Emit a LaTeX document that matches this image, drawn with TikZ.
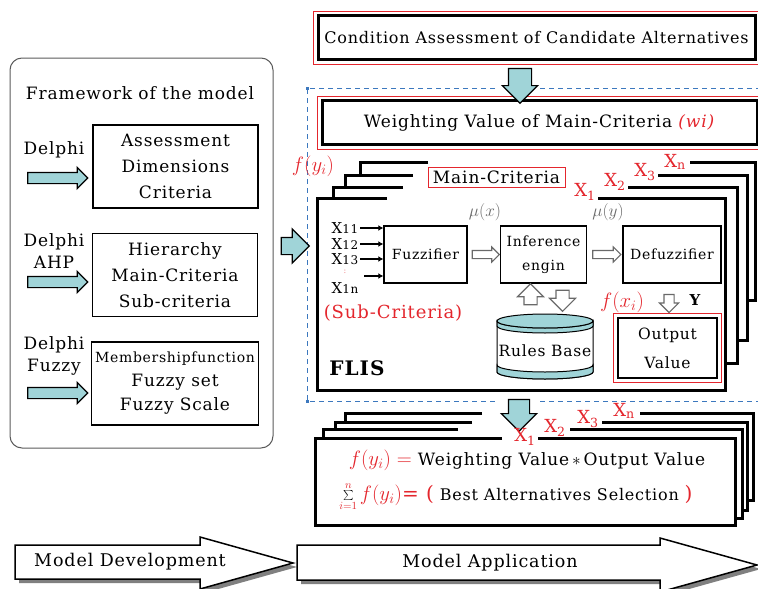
\documentclass[tikz,border=0pt]{standalone}
\usepackage{fontspec}
\setmainfont{DejaVu Serif}[LetterSpace=5]
\usetikzlibrary{arrows.meta, positioning, calc, shapes.arrows, fit}

\definecolor{arrowcyan}{RGB}{160,212,216}
\definecolor{flisred}{RGB}{228,38,45}
\definecolor{dashblue}{RGB}{60,120,190}
\definecolor{framegray}{RGB}{90,90,90}
\definecolor{hollowgray}{RGB}{105,105,105}

\newcommand{\inx}[1]{X{\fontsize{12}{12}\selectfont #1}}
\newcommand{\critx}[1]{X\textsubscript{#1}}

\begin{document}
\begin{tikzpicture}[x=1pt, y=-1pt,
  panelbox/.style={draw, line width=1.6pt, align=center, minimum width=165pt, minimum height=83pt, font=\fontsize{17}{26}\selectfont},
  methlabel/.style={align=center, font=\fontsize{17}{22}\selectfont},
  cyanarrow/.style={single arrow, draw, line width=1.2pt, fill=arrowcyan, inner xsep=0pt},
  grayarrow/.style={single arrow, draw=hollowgray, line width=1.1pt, fill=white, inner xsep=0pt},
  stackline/.style={draw, fill=white, line width=3pt},
  bigbox/.style={draw, line width=3pt, fill=white, minimum height=44pt},
  redframe/.style={draw=flisred, line width=0.7pt, inner sep=3pt},
  flisbox/.style={draw, line width=1.5pt, fill=white, align=center, minimum height=57pt, font=\fontsize{14}{24}\selectfont},
  critlabel/.style={text=flisred, font=\fontsize{18}{18}\selectfont, inner sep=0pt},
  inlabel/.style={font=\fontsize{15}{15}\selectfont, inner sep=0pt},
  inarrow/.style={-{Latex[length=5pt,width=6pt]}, line width=2.2pt},
  dashline/.style={dash pattern=on 5pt off 4pt, draw=dashblue, line width=0.8pt},
  devarrow/.style={draw, fill=white, line width=1.5pt}
]
\useasboundingbox (0,0) rectangle (758,589);

% model framework
\node[draw=framegray, rounded corners=12pt, line width=1pt, minimum width=263pt, minimum height=390pt] (frame) at (141.5,253) {};
\node[font=\fontsize{17}{18}\selectfont] (fwtitle) at (140,93) {Framework of the model};
\node[panelbox] (assess) at (175.5,166.5) {Assessment\\Dimensions\\Criteria};
\node[panelbox] (hier) at (175,275) {Hierarchy\\Main-Criteria\\Sub-criteria};
\node[panelbox, font=\fontsize{17}{24}\selectfont] (member) at (175,383.5) {{\fontsize{14}{14}\selectfont Membershipfunction}\\Fuzzy set\\Fuzzy Scale};
\node[methlabel] (meth1) at (54,150) {Delphi};
\node[methlabel] (meth2) at (54,251) {Delphi\\AHP};
\node[methlabel] (meth3) at (54,356) {Delphi\\Fuzzy};
\foreach \ay/\nm in {178/arr1, 282/arr2, 393/arr3}
  \node[cyanarrow, minimum height=60pt, inner ysep=5pt, single arrow head extend=5pt] (\nm) at (55,\ay) {};

% application side
\node[bigbox, minimum width=437pt, font=\fontsize{16}{20}\selectfont] (cond) at (536.5,37.5) {Condition Assessment of Candidate Alternatives};
\node[redframe, fit=(cond)] (condframe) {};
\node[bigbox, minimum width=435pt, font=\fontsize{17}{20}\selectfont] (weight) at (539.5,122.5) {Weighting Value of Main-Criteria \textcolor{flisred}{\textit{(wi)}}};
\node[redframe, fit=(weight)] (weightframe) {};
\node[cyanarrow, shape border rotate=270, minimum height=30pt, inner sep=11pt, inner xsep=11pt, single arrow head extend=6pt] (arrcond) at (520,80) {};

\draw[dashline] (495,88) -- (307,88) -- (307,401) -- (495,401);
\draw[dashline] (540,88) -- (758,88);
\draw[dashline] (540,401) -- (758,401);
\foreach \hy in {88,245,401}
  \fill[dashblue] (305.5,\hy-1.5) rectangle +(3,3);

% FLIS stack
\foreach \lx/\ty/\rx/\by/\ga/\gb in {360/162/755/300/428/690, 345/175/747/340/413/658, 333/187/737/363/403/628, 317/198/725/390/387/598}
  \filldraw[stackline] (\ga,\ty) -- (\lx,\ty) -- (\lx,\by) -- (\rx,\by) -- (\rx,\ty) -- (\gb,\ty);
\node[draw=flisred, line width=0.7pt, fill=white, font=\fontsize{17}{18}\selectfont, minimum width=137pt, minimum height=20pt, inner sep=1pt] (maincrit) at (496.5,177) {Main-Criteria};
\node[critlabel] (fx1) at (585,192) {\critx{1}};
\node[critlabel] (fx2) at (615,182) {\critx{2}};
\node[critlabel] (fx3) at (645,172) {\critx{3}};
\node[critlabel] (fxn) at (675,162) {\critx{n}};
\node[text=flisred, font=\fontsize{20}{20}\selectfont] (fyi) at (313,166) {$f(y_i)$};
\node[cyanarrow, minimum height=28pt, inner ysep=8pt, single arrow head extend=8.5pt] (arrflis) at (291,246) {};

\node[flisbox, minimum width=83pt] (fuzz) at (425.5,254.5) {Fuzzifier};
\node[flisbox, minimum width=86pt, right=32pt of fuzz] (infer) {Inference\\engin};
\node[flisbox, minimum width=98pt, right=35pt of infer] (defuzz) {Defuzzifier};
\node[inlabel] (x11) at (345,228) {\inx{11}};
\node[inlabel] (x12) at (345,244) {\inx{12}};
\node[inlabel] (x13) at (345,259) {\inx{13}};
\node[text=flisred!60, font=\fontsize{8}{8}\selectfont, inner sep=0pt] (xdots) at (345,272) {:};
\node[inlabel] (x1n) at (345,288) {\inx{1n}};
\coordinate (x1nin) at (364,276);
\foreach \src in {x11,x12,x13}
  \draw[inarrow] ([xshift=2pt]\src.east) -- (\src.east -| fuzz.west);
\draw[inarrow] (x1nin) -- (x1nin -| fuzz.west);
\node[text=hollowgray, font=\fontsize{16}{16}\selectfont] (mux) at (485,212) {$\mu(x)$};
\node[text=hollowgray, font=\fontsize{16}{16}\selectfont] (muy) at (608,212) {$\mu(y)$};
\node[grayarrow, minimum height=27pt, inner ysep=3.5pt, single arrow head extend=3.5pt] (arrfi) at ($(fuzz.east)!0.5!(infer.west)$) {};
\node[grayarrow, minimum height=28pt, inner ysep=3.5pt, single arrow head extend=3.5pt] (arrid) at ($(infer.east)!0.5!(defuzz.west)$) {};

% rules base
\filldraw[fill=white, line width=1pt] (497,321) -- (497,372) arc[start angle=180, end angle=0, x radius=48, y radius=7] -- (593,321);
\filldraw[fill=arrowcyan, line width=1pt] (497,365) arc[start angle=180, end angle=0, x radius=48, y radius=7] -- (593,372) arc[start angle=0, end angle=180, x radius=48, y radius=7] -- cycle;
\filldraw[fill=arrowcyan, line width=1pt] (497,321) arc[start angle=180, end angle=0, x radius=48, y radius=7] -- (593,326) arc[start angle=0, end angle=180, x radius=48, y radius=7] -- cycle;
\filldraw[fill=arrowcyan, line width=1pt] (545,321) ellipse[x radius=48, y radius=7];
\node[font=\fontsize{15.5}{16}\selectfont] (rules) at (545,351) {Rules Base};
\node[grayarrow, shape border rotate=90, minimum height=21pt, inner sep=6pt, inner xsep=6pt, single arrow head extend=6.5pt] (arrup) at (530.5,297.5) {};
\node[grayarrow, shape border rotate=270, minimum height=21pt, inner sep=6pt, inner xsep=6pt, single arrow head extend=6.5pt] (arrdown) at (562.5,297.5) {};

% output
\node[draw, line width=1.5pt, fill=white, align=center, minimum width=99pt, minimum height=60pt, font=\fontsize{15.5}{29}\selectfont] (output) at (667.5,348) {Output\\Value};
\node[redframe, fit=(output), inner sep=4pt] (outframe) {};
\node[grayarrow, shape border rotate=270, minimum height=18pt, inner sep=4.5pt, inner xsep=4.5pt, single arrow head extend=4.5pt] (arrout) at (669,301) {};
\node[font=\bfseries\fontsize{15}{15}\selectfont] (yout) at (695,300) {Y};
\node[text=flisred, font=\fontsize{20}{20}\selectfont] (fxi) at (622,302) {$f(x_i)$};
\node[text=flisred, font=\fontsize{18}{18}\selectfont] (subcrit) at (393,313) {(Sub-Criteria)};
\node[font=\bfseries\fontsize{20}{20}\selectfont] (flis) at (357,368) {FLIS};

% result stack
\foreach \lx/\ty/\rx/\by/\ga/\gb in {345/413/753/500/482/640, 335/422/747/510/472/602, 323/429/742/518/458/570, 315/438/735/525/502/538}
  \filldraw[stackline] (\ga,\ty) -- (\lx,\ty) -- (\lx,\by) -- (\rx,\by) -- (\rx,\ty) -- (\gb,\ty);
\node[cyanarrow, shape border rotate=270, minimum height=24pt, inner sep=10pt, inner xsep=10pt, single arrow head extend=7pt] (arrres) at (519,410) {};
\node[critlabel] (rx1) at (525,437) {\critx{1}};
\node[critlabel] (rx2) at (555,428) {\critx{2}};
\node[critlabel] (rx3) at (588,419) {\critx{3}};
\node[critlabel] (rxn) at (624,411) {\critx{n}};
\node[font=\fontsize{17}{17}\selectfont] (eqone) at (527,460) {\textcolor{flisred}{\fontsize{21}{21}\selectfont$f(y_i) =$} Weighting Value\,$\ast$\,Output Value};
\node[font=\fontsize{16}{16}\selectfont, inner sep=1pt] (eqtwo) at (516,497) {$\sum\limits_{\textcolor{flisred}{i=1}}^{\textcolor{flisred}{n}}$\,\textcolor{flisred}{\fontsize{20}{20}\selectfont$f(y_i)$= (} Best Alternatives Selection \textcolor{flisred}{\fontsize{20}{20}\selectfont)}};

% development / application
\fill[gray] (19,549) -- (204,549) -- (204,541) -- (297,567) -- (204,593) -- (204,583) -- (19,583) -- cycle;
\draw[devarrow] (15,545) -- (200,545) -- (200,537) -- (293,563) -- (200,589) -- (200,579) -- (15,579) -- cycle;
\fill[gray] (301,549) -- (664,549) -- (664,542) -- (761,569) -- (664,596) -- (664,584) -- (301,584) -- cycle;
\draw[devarrow] (297,545) -- (660,545) -- (660,538) -- (757,565) -- (660,592) -- (660,580) -- (297,580) -- cycle;
\node[font=\fontsize{17.5}{18}\selectfont] (devel) at (130,562) {Model Development};
\node[font=\fontsize{17.5}{18}\selectfont] (appl) at (490,563) {Model Application};
\end{tikzpicture}
\end{document}
